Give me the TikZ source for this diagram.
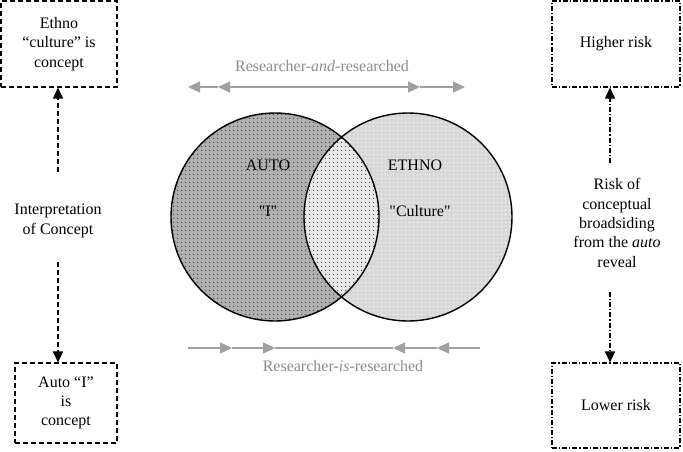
\documentclass[tikz,border=0pt]{standalone}
\usepackage{fontspec}
\setmainfont{Liberation Serif}
\usetikzlibrary{arrows.meta,patterns.meta}
\tikzdeclarepattern{
  name=dotgrid,
  type=uncolored,
  bounding box={(0pt,0pt) and (4pt,4pt)},
  tile size={(4pt,4pt)},
  code={\fill (2pt,2pt) circle (0.7pt);}
}
\definecolor{arrowgray}{HTML}{A0A0A0}
\definecolor{labelgray}{HTML}{8C8C8C}
\definecolor{autofill}{HTML}{B0B0B0}
\definecolor{ethnofill}{HTML}{D8D8D8}
\definecolor{bothfill}{HTML}{E8E8E8}
\tikzset{
  dashbox/.style={draw, line width=1.1pt, dash pattern=on 5pt off 3pt, align=center, inner sep=0pt},
  dotdashbox/.style={draw, line width=1.1pt, dash pattern=on 5pt off 2pt on 1.2pt off 2pt, align=center, inner sep=0pt},
  dasharrow/.style={line width=1.1pt, dash pattern=on 5pt off 3pt, -{Triangle[width=10pt,length=11pt]}},
  dotdasharrow/.style={line width=1.1pt, dash pattern=on 5pt off 2pt on 1.2pt off 2pt, -{Triangle[width=10pt,length=11pt]}},
  grayarrow/.style={draw=arrowgray, line width=1.1pt, -{Triangle[width=11pt,length=12pt]}},
  grayline/.style={draw=arrowgray, line width=1.1pt},
  plain/.style={align=center, inner sep=0pt},
  graylabel/.style={text=labelgray, inner sep=0pt},
}
\begin{document}
\begin{tikzpicture}[x=1pt,y=-1pt, font=\fontsize{16}{19.3}\selectfont]
\useasboundingbox (0,0) rectangle (683,451);

% --- Venn circles ---
\fill[ethnofill] (408,217) circle [radius=104pt];
\fill[pattern=dotgrid, pattern color=white] (408,217) circle [radius=104pt];
\fill[autofill] (275,217) circle [radius=104pt];
\fill[pattern=dotgrid, pattern color=black!75] (275,217) circle [radius=104pt];
\begin{scope}
  \clip (275,217) circle [radius=104pt];
  \fill[bothfill] (408,217) circle [radius=104pt];
  \fill[pattern=dotgrid, pattern color=black!75] (408,217) circle [radius=104pt];
\end{scope}
\draw[line width=1.4pt] (275,217) circle [radius=104pt];
\draw[line width=1.4pt] (408,217) circle [radius=104pt];

\node[plain] (auto) at (268,165) {AUTO};
\node[plain] (autoI) at (268,211) {\textquotedbl I\textquotedbl};
\node[plain] (ethno) at (415,165) {ETHNO};
\node[plain] (culture) at (420,211) {\textquotedbl Culture\textquotedbl};

% --- gray arrows top ---
\node[graylabel] (andlbl) at (322,66) {Researcher-\textit{and}-researched};
\coordinate (ta) at (188,87);
\coordinate (tb) at (218,87);
\coordinate (tm) at (320,87);
\coordinate (tc) at (420,87);
\coordinate (td) at (465,87);
\draw[grayarrow] (tb) -- (ta);
\draw[grayarrow] (tm) -- (tb);
\draw[grayarrow] (tm) -- (tc);
\draw[grayarrow] (tc) -- (td);

% --- gray arrows bottom ---
\node[graylabel] (islbl) at (343,366) {Researcher-\textit{is}-researched};
\coordinate (ba) at (188,348);
\coordinate (bb) at (232,348);
\coordinate (bc) at (275,348);
\coordinate (bd) at (393,348);
\coordinate (be) at (437,348);
\coordinate (bf) at (480,348);
\draw[grayarrow] (ba) -- (bb);
\draw[grayarrow] (bb) -- (bc);
\draw[grayline] (bc) -- (bd);
\draw[grayarrow] (be) -- (bd);
\draw[grayarrow] (bf) -- (be);

% --- left column ---
\node[dashbox, minimum width=116pt, minimum height=86pt] (ethnobox) at (59,44) {Ethno\\“culture” is\\concept};
\node[dashbox, minimum width=102pt, minimum height=80pt] (autobox) at (66,403) {Auto “I”\\is\\concept};
\node[plain] (interp) at (58,221) {Interpretation\\of Concept};
\coordinate (lu) at (58,172);
\coordinate (ld) at (58,262);
\draw[dasharrow] (lu) -- (lu |- ethnobox.south);
\draw[dasharrow] (ld) -- (ld |- autobox.north);

% --- right column ---
\node[dotdashbox, minimum width=128pt, minimum height=86pt] (higher) at (616,44) {Higher risk};
\node[dotdashbox, minimum width=128pt, minimum height=85pt] (lower) at (616,405.5) {Lower risk};
\node[plain] (risk) at (617,223) {Risk of\\conceptual\\broadsiding\\from the \textit{auto}\\reveal};
\coordinate (ru) at (610,163);
\coordinate (rd) at (610,292);
\draw[dotdasharrow] (ru) -- (ru |- higher.south);
\draw[dotdasharrow] (rd) -- (rd |- lower.north);
\end{tikzpicture}
\end{document}
